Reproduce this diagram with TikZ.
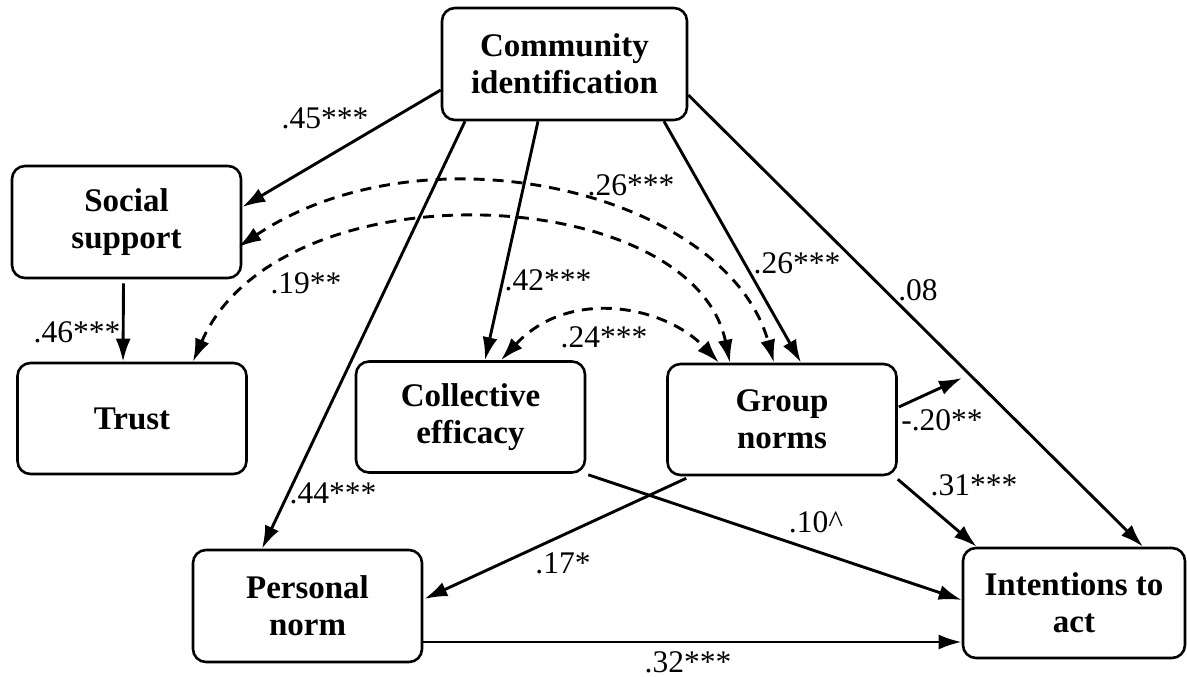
\documentclass[tikz,border=0pt]{standalone}
\usepackage{fontspec}
\setmainfont{Liberation Serif}
\usetikzlibrary{arrows.meta, calc}
\tikzset{
  >={Latex[length=23pt,width=15pt]},
  card/.style={
    draw, line width=2.6pt, rounded corners=13pt, align=center,
    minimum width=229pt, minimum height=111pt, inner sep=0pt,
    font=\fontsize{33}{37}\selectfont\bfseries
  },
  link/.style={->, line width=2.9pt},
  cov/.style={<->, line width=2.9pt, dash pattern=on 11pt off 8pt},
  coef/.style={font=\fontsize{31.5}{34}\selectfont, inner sep=0pt}
}

\begin{document}
\begin{tikzpicture}[x=1pt, y=-1pt]
  \useasboundingbox (0,0) rectangle (1187,677);

  % boxes
  \node[card, minimum width=245pt, minimum height=112pt] (CI) at (564.5,64) {Community\\identification};
  \node[card, minimum height=112pt] (SS) at (126.5,222) {Social\\support};
  \node[card] (TR) at (132,418.5) {Trust};
  \node[card] (CE) at (470.5,417) {Collective\\efficacy};
  \node[card] (GN) at (782,419.5) {Group\\norms};
  \node[card, minimum height=112pt] (PN) at (307.5,606) {Personal\\norm};
  \node[card, minimum width=222pt, minimum height=110pt] (IA) at (1074,603) {Intentions to\\act};
  \coordinate (GNout) at (962,378);

  % paths from community identification
  \draw[link] ($(CI.west)+(0,26)$) -- ($(SS.east)+(0,-15)$);
  \draw[link] ($(CI.south)+(-99.5,0)$) -- ($(PN.north)+(-45.5,0)$);
  \draw[link] ($(CI.south)+(-26.5,0)$) -- ($(CE.north)+(14.5,0)$);
  \draw[link] ($(CI.south)+(99.5,0)$) -- ($(GN.north)+(19,0)$);
  \draw[link] ($(CI.east)+(0,31)$) -- ($(IA.north)+(69,0)$);

  % other paths
  \draw[link] ($(SS.south)+(-3,4)$) -- ($(TR.north)+(-9,0)$);
  \draw[link] ($(GN.east)+(1,-12.5)$) -- (GNout);
  \draw[link] ($(GN.south east)+(0,3)$) -- ($(IA.north west)+(15,0)$);
  \draw[link] ($(CE.south east)+(2,1)$) -- ($(IA.west)+(0,-3)$);
  \draw[link] ($(GN.south west)+(20,2)$) -- ($(PN.east)+(1,-7)$);
  \draw[link] ($(PN.east)+(0,36)$) -- ($(IA.west)+(0,39)$);

  % covariances
  \draw[cov] ($(SS.east)+(-4,25)$) .. controls +(189,-126) and +(-47,-170) .. ($(GN.north)+(-8,0)$);
  \draw[cov] ($(TR.north)+(61,0)$) .. controls +(86,-198) and +(-38,-181) .. ($(GN.north)+(-52,0)$);
  \draw[cov] ($(CE.north)+(30.5,0)$) .. controls +(69,-74) and +(-53,-56) .. ($(GN.north)+(-63,0)$);

  % coefficients
  \node[coef] (c45) at (325,118) {.45***};
  \node[coef] (c46) at (77,332) {.46***};
  \node[coef] (c26a) at (631,185) {.26***};
  \node[coef] (c19) at (306,283) {.19**};
  \node[coef] (c42) at (548,280) {.42***};
  \node[coef] (c26b) at (797,263) {.26***};
  \node[coef] (c08) at (918,290) {.08};
  \node[coef] (c24) at (604,337) {.24***};
  \node[coef] (c20) at (942,420) {-.20**};
  \node[coef] (c31) at (974,485) {.31***};
  \node[coef] (c44) at (333,493) {.44***};
  \node[coef] (c10) at (816,522) {.10\textasciicircum};
  \node[coef] (c17) at (563,563) {.17*};
  \node[coef] (c32) at (688,662) {.32***};
\end{tikzpicture}
\end{document}
